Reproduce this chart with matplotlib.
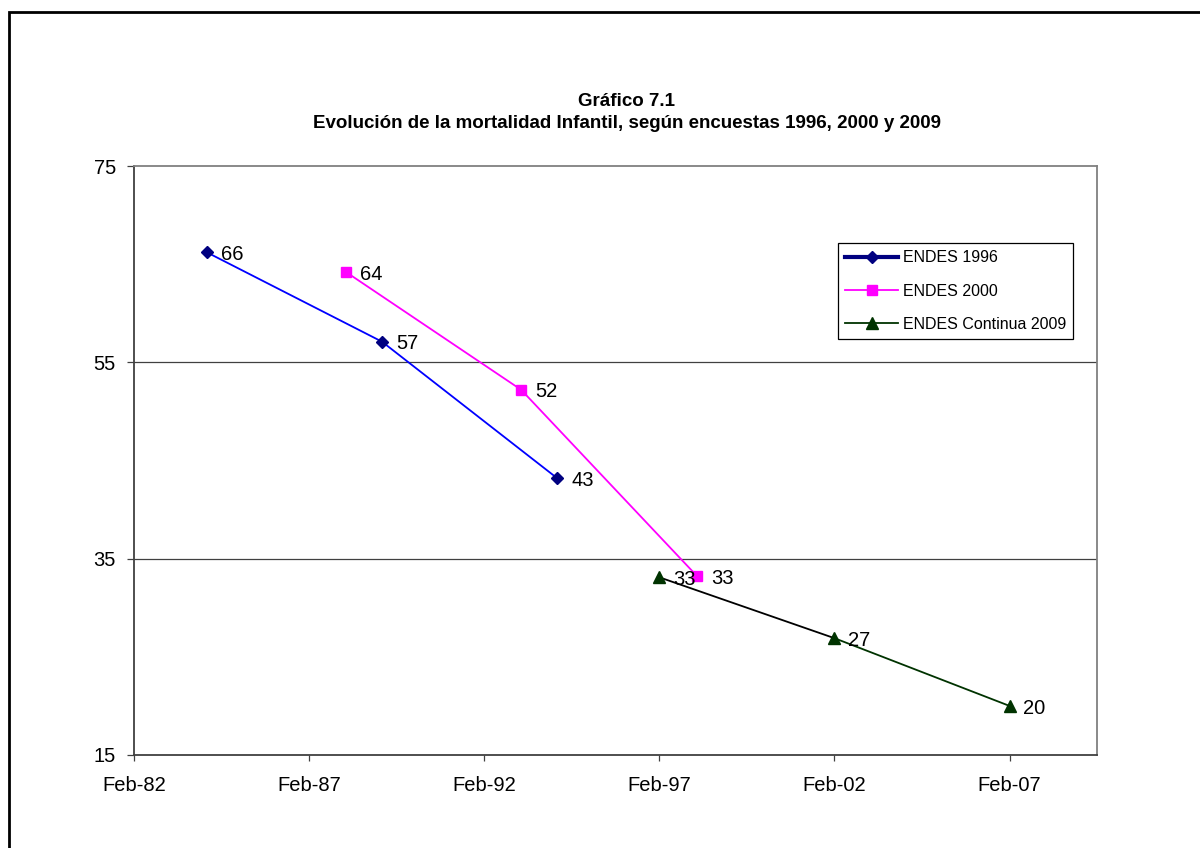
import datetime as dt

import matplotlib

matplotlib.use("Agg")
import matplotlib.dates as mdates
import matplotlib.pyplot as plt
from matplotlib.patches import Rectangle

plt.rcParams["font.family"] = ["Liberation Sans", "DejaVu Sans"]

# data
dates_1996 = [dt.date(1984, 3, 3), dt.date(1989, 3, 3), dt.date(1994, 3, 3)]
vals_1996 = [66.2, 57.1, 43.2]
dates_2000 = [dt.date(1988, 2, 21), dt.date(1993, 2, 21), dt.date(1998, 3, 3)]
vals_2000 = [64.2, 52.2, 33.2]
dates_2009 = [dt.date(1997, 2, 1), dt.date(2002, 2, 1), dt.date(2007, 2, 1)]
vals_2009 = [33.1, 26.9, 20.0]
labels = ["ENDES 1996", "ENDES 2000", "ENDES Continua 2009"]
tick_dates = [dt.date(y, 2, 1) for y in (1982, 1987, 1992, 1997, 2002, 2007)]
yticks = [15, 35, 55, 75]

fig = plt.figure(figsize=(12, 8.48), dpi=100)
ax = fig.add_axes([134 / 1200, 1 - 755 / 848, (1097 - 134) / 1200, (755 - 166) / 848])

# outer frame (cut off at right and bottom like the source)
fig.patches.append(Rectangle((9 / 1200, -0.2), 1.5, 1.2 - 12 / 848,
                             transform=fig.transFigure, fill=False,
                             edgecolor="black", linewidth=2.0, zorder=0))

for g in (35, 55):
    ax.axhline(g, color="#404040", linewidth=0.9, zorder=1)

# series lines (drawn as in the original: plot colour differs from legend colour)
ax.plot(dates_1996, vals_1996, color="#0000FF", linewidth=1.3, zorder=2)
ax.plot(dates_2000, vals_2000, color="#FF00FF", linewidth=1.3, zorder=2)
ax.plot(dates_2009[:2], vals_2009[:2], color="black", linewidth=1.3, zorder=2)
ax.plot(dates_2009[1:], vals_2009[1:], color="#003300", linewidth=1.3, zorder=2)

ax.plot(dates_1996, vals_1996, linestyle="none", marker="D", markersize=6.5,
        color="#000080", zorder=3)
ax.plot(dates_2000, vals_2000, linestyle="none", marker="s", markersize=7,
        color="#FF00FF", zorder=3)
ax.plot(dates_2009, vals_2009, linestyle="none", marker="^", markersize=8,
        color="#003300", zorder=3)

for ds, vs in ((dates_1996, vals_1996), (dates_2000, vals_2000), (dates_2009, vals_2009)):
    for d, v in zip(ds, vs):
        ax.annotate(f"{v:.0f}", (mdates.date2num(d), v), xytext=(10, -1.5),
                    textcoords="offset points", va="center", ha="left",
                    fontsize=14.5, zorder=4)

# legend proxies
h1, = ax.plot([], [], color="#000080", linewidth=3, marker="D", markersize=6)
h2, = ax.plot([], [], color="#FF00FF", linewidth=1.3, marker="s", markersize=7)
h3, = ax.plot([], [], color="#003300", linewidth=1.3, marker="^", markersize=8)
leg = ax.legend([h1, h2, h3], labels, loc="upper left",
                bbox_to_anchor=((838 - 134) / 963, 1 - (243 - 166) / 589),
                fontsize=11.5, frameon=True, fancybox=False, framealpha=1,
                edgecolor="black", handlelength=3.3, handletextpad=0.3,
                borderpad=0.45, labelspacing=1.15, borderaxespad=0)
leg.get_frame().set_linewidth(0.9)

ax.set_xlim(mdates.date2num(dt.date(1982, 2, 1)), mdates.date2num(dt.date(2009, 8, 1)))
ax.set_ylim(15, 75)
ax.set_xticks([mdates.date2num(d) for d in tick_dates])
ax.xaxis.set_major_formatter(mdates.DateFormatter("%b-%y"))
ax.set_yticks(yticks)
ax.tick_params(axis="x", labelsize=14.5, length=4, width=0.9, pad=11, color="#404040")
ax.tick_params(axis="y", labelsize=14.5, length=5, width=0.9, pad=8, color="#404040")

for side in ("left", "bottom"):
    ax.spines[side].set_color("#404040")
    ax.spines[side].set_linewidth(1.3)
for side in ("top", "right"):
    ax.spines[side].set_color("#808080")
    ax.spines[side].set_linewidth(1.3)

fig.text(627 / 1200, 1 - 101 / 848, "Gráfico 7.1", ha="center", va="center",
         fontsize=13.5, fontweight="bold")
fig.text(627 / 1200, 1 - 124 / 848,
         "Evolución de la mortalidad Infantil, según encuestas 1996, 2000 y 2009",
         ha="center", va="center", fontsize=13.5, fontweight="bold")

fig.savefig("out.png", dpi=100)
